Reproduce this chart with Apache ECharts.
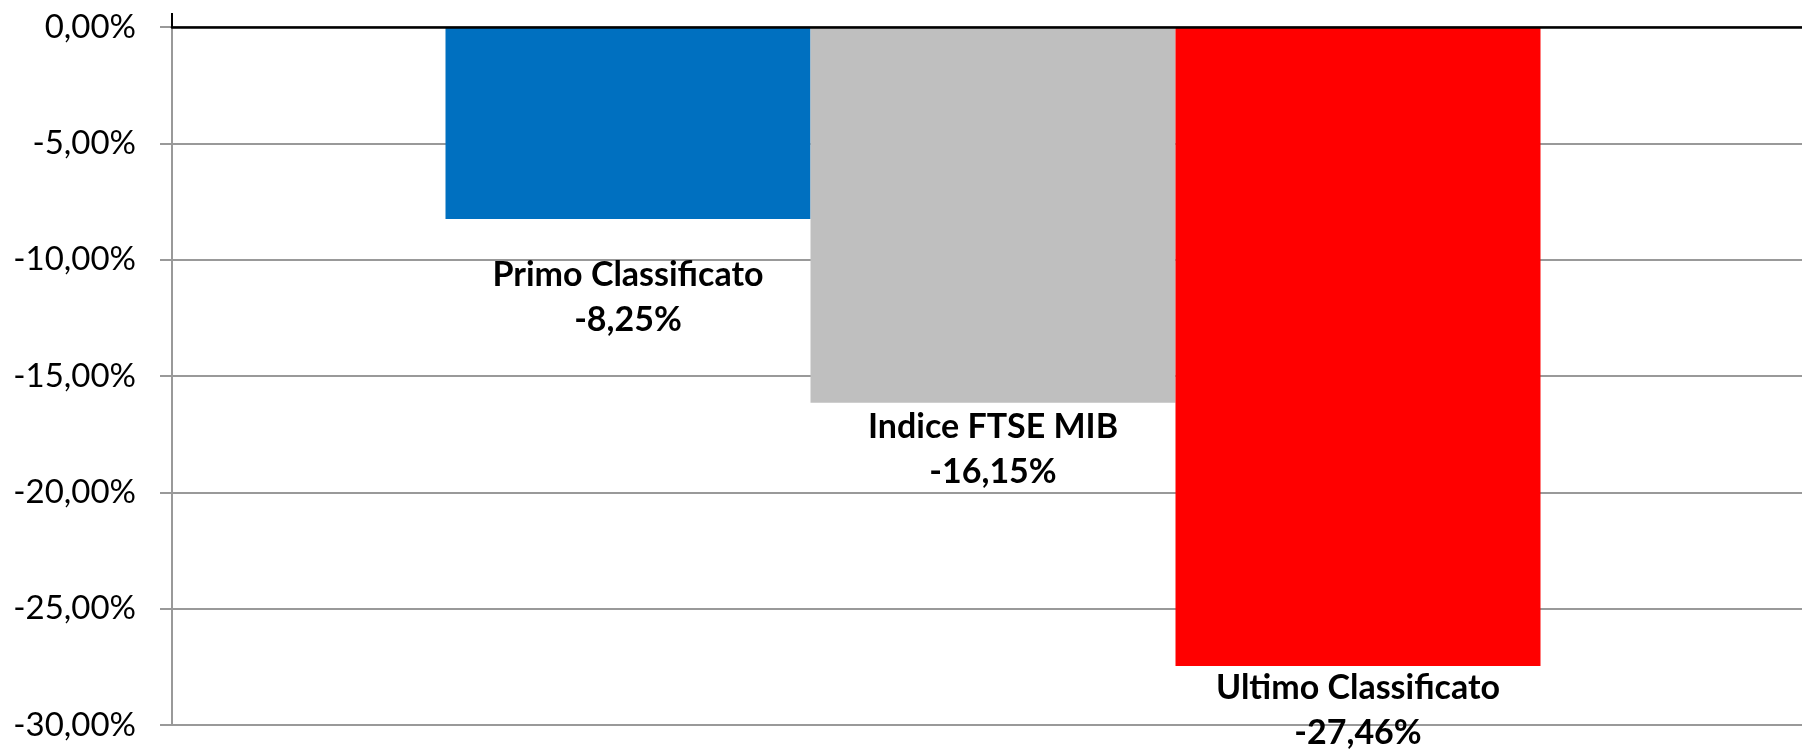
<!DOCTYPE html>
<html>
<head>
<meta charset="utf-8">
<script src="https://cdn.jsdelivr.net/npm/echarts@6/dist/echarts.min.js"></script>
<style>
html, body { margin: 0; padding: 0; background: #fff; overflow: hidden; }
/* a little wider than the window: the plot runs off the right edge like the original */
#container { width: 1814px; height: 752px; }
</style>
</head>
<body>
<div id="container"></div>
<script>
var names = ['Primo Classificato', 'Indice FTSE MIB', 'Ultimo Classificato'];
var values = [-8.25, -16.15, -27.46];
var colors = ['#0070C0', '#BFBFBF', '#FF0000'];
var labelGaps = [34, 2, 0];
var yTicks = { min: -30, max: 0, step: 5 };

function pct(v) {
    return v.toFixed(2).replace('.', ',') + '%';
}

var dom = document.getElementById('container');
var myChart = echarts.init(dom);

var series = names.map(function (n, i) {
    return {
        name: n,
        type: 'bar',
        data: [values[i]],
        barWidth: 365,
        barGap: '0%',
        itemStyle: { color: colors[i] },
        label: {
            show: true,
            position: 'bottom',
            distance: labelGaps[i],
            formatter: function (p) { return p.seriesName + '\n' + pct(p.value); },
            fontFamily: 'Lato',
            fontWeight: 'bold',
            fontSize: 34,
            lineHeight: 45,
            color: '#000',
            align: 'center'
        }
    };
});

var option = {
    animation: false,
    backgroundColor: '#fff',
    grid: { left: 172, right: 0, top: 27, bottom: 27 },
    xAxis: {
        type: 'category',
        data: [''],
        axisLine: { lineStyle: { color: '#000', width: 2.5 } },
        axisTick: { show: true, inside: true, length: 14, lineStyle: { color: '#000', width: 2 } },
        axisLabel: { show: false },
        splitLine: { show: false },
        z: 10
    },
    yAxis: {
        type: 'value',
        min: yTicks.min,
        max: yTicks.max,
        interval: yTicks.step,
        axisLine: { show: true, lineStyle: { color: '#999', width: 2 } },
        axisTick: { show: true, length: 12, lineStyle: { color: '#999', width: 2 } },
        axisLabel: {
            formatter: pct,
            fontFamily: 'Lato',
            fontSize: 33,
            color: '#000',
            margin: 36
        },
        splitLine: { lineStyle: { color: '#999', width: 2 } }
    },
    series: series
};

myChart.setOption(option, true);
</script>
</body>
</html>
